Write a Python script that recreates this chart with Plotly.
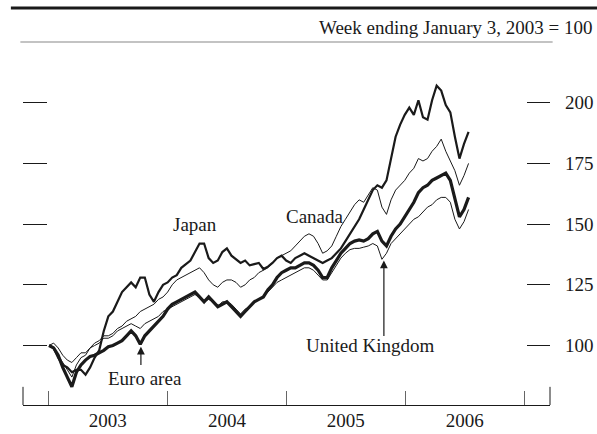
import pandas as pd
import plotly.graph_objects as go

# Weekly-ending dates sampled every two weeks, Jan 3 2003 through mid-July 2006
dates = pd.date_range("2003-01-03", periods=93, freq="14D")

# Equity indexes, week ending January 3, 2003 = 100
japan = [100, 99, 95, 92, 91, 89, 90, 90, 88, 91,
         95, 98, 106, 112, 114, 118, 122, 124, 126, 124,
         128, 128, 121, 118, 122, 125, 126, 128, 129, 132,
         133.5, 135, 138.5, 142, 142, 136, 134, 135, 138.5, 140,
         137, 135.5, 134, 135, 133, 133.5, 134, 131.5, 132.5, 134,
         136, 137, 135, 134, 136, 137, 138, 137, 136, 135,
         134, 135, 136, 138, 140, 143, 146, 149, 152, 156,
         160, 164, 166, 165, 168, 177, 186, 191, 195, 198,
         195, 201, 194, 193, 201, 207, 205, 199, 196, 186,
         177, 183, 188]
canada = [100, 101, 99, 96, 94, 93, 95, 97, 97, 99,
          101, 102, 104, 104, 105, 107, 108, 110, 111, 112,
          114, 115, 116, 117, 119, 120, 122, 125, 127, 128,
          129, 130, 131, 132, 130, 127, 125, 124, 126, 127,
          127, 126, 124, 125, 127, 128, 130, 131, 132, 134,
          136, 137, 138, 139, 141, 143, 145, 146, 145, 142,
          138, 139, 141, 145, 149, 152, 155, 158, 160, 159,
          162, 165, 164, 157, 154, 160, 164, 166, 168, 171,
          173, 177, 176, 177, 180, 182, 185, 180, 176, 172,
          166, 170, 175]
euro_area = [100, 99, 96, 91, 87, 83, 89, 92, 94, 95.5,
             96, 97, 98, 99.5, 100, 101, 102, 104, 106, 104,
             100.5, 104, 106, 108, 110, 112, 115, 117, 118, 119,
             120, 121, 122, 120, 118, 120, 118, 116, 117, 118,
             116, 114, 112, 114, 116, 118, 119, 120, 123, 125,
             128, 130, 131, 132, 132, 133, 134, 134, 133, 131,
             128, 128, 132, 135, 138, 140, 142, 143, 143.5, 143,
             144, 146, 147, 143, 141, 145, 148, 150, 153, 156,
             159, 163, 165, 166, 168, 169, 170, 171, 168, 160,
             153, 156, 161]
united_kingdom = [100, 99, 96, 93, 90, 87, 92, 95, 96, 99,
                  100, 101, 103, 103, 104, 106, 107, 108, 109, 108,
                  107, 109, 110, 111, 112, 114, 115, 116, 117, 118,
                  119, 120, 121, 120, 118, 119, 118, 116, 118, 118,
                  117, 115, 113, 115, 116, 118, 119, 120, 122, 124,
                  126, 127, 128, 129, 130, 131, 132, 132, 131, 129,
                  127, 127, 130, 133, 136, 138, 139.5, 140, 140, 140.5,
                  141, 142, 141, 135.5, 138, 142, 144, 146, 148, 150,
                  152, 153, 155, 157, 158, 160, 161, 161, 159, 152,
                  148, 151, 156]

y_ticks = [100, 125, 150, 175, 200]
year_bounds = ["2003-01-01", "2004-01-01", "2005-01-01", "2006-01-01", "2007-01-01"]
year_mids = ["2003-07-02", "2004-07-02", "2005-07-02", "2006-07-02"]
year_labels = ["2003", "2004", "2005", "2006"]

x_range = ["2002-10-15", "2007-03-21"]
y_range = [75.5, 225]

ink = "#1a1a1a"
serif = "Liberation Serif"

fig = go.Figure()
series = [
    (japan, 2.2),
    (canada, 1.0),
    (united_kingdom, 1.0),
    (euro_area, 3.2),
]
for values, width in series:
    fig.add_trace(go.Scatter(x=dates, y=values, mode="lines",
                             line=dict(color=ink, width=width),
                             showlegend=False, hoverinfo="skip"))

# Invisible anchor so the secondary axes (year labels, right-hand scale) render
fig.add_trace(go.Scatter(x=[dates[0]], y=[100], xaxis="x2", yaxis="y2", mode="markers",
                         marker=dict(opacity=0), showlegend=False, hoverinfo="skip"))

fig.update_layout(
    width=597, height=434,
    margin=dict(l=23, r=47, t=42, b=29, autoexpand=False),
    paper_bgcolor="white", plot_bgcolor="white",
    font=dict(family=serif, size=19, color=ink),
    xaxis=dict(type="date", range=x_range, showgrid=False, zeroline=False, automargin=False,
               showline=True, linecolor=ink, linewidth=1,
               tickmode="array", tickvals=year_bounds, ticks="inside", ticklen=14,
               tickcolor="#666666", tickwidth=1, showticklabels=False),
    xaxis2=dict(type="date", range=x_range, overlaying="x", side="bottom", automargin=False,
                showgrid=False, zeroline=False, showline=False,
                tickmode="array", tickvals=year_mids, ticktext=year_labels,
                ticks="", ticklabelstandoff=2,
                tickfont=dict(family=serif, size=19, color=ink)),
    yaxis=dict(range=y_range, showgrid=False, zeroline=False, showline=False, automargin=False,
               tickmode="array", tickvals=y_ticks, ticks="inside", ticklen=24,
               tickcolor=ink, tickwidth=1, showticklabels=False),
    yaxis2=dict(range=y_range, overlaying="y", side="right", showgrid=False, automargin=False,
                zeroline=False, showline=False,
                tickmode="array", tickvals=y_ticks, ticks="inside", ticklen=23,
                tickcolor=ink, tickwidth=1, ticklabelstandoff=14,
                tickfont=dict(family=serif, size=19, color=ink)),
)

# Header rules and end ticks on the date axis
fig.add_shape(type="line", xref="paper", yref="paper", x0=-0.023, x1=1.09, y0=1.094, y1=1.094,
              line=dict(color=ink, width=3))
fig.add_shape(type="line", xref="paper", yref="paper", x0=-0.005, x1=1.005, y0=1.0, y1=1.0,
              line=dict(color="#888888", width=1.2))
for xp in (0.0, 1.0):
    fig.add_shape(type="line", xref="paper", yref="paper", x0=xp, x1=xp, y0=0, y1=0.05,
                  line=dict(color=ink, width=1))

fig.add_annotation(text="Week ending January 3, 2003 = 100", xref="paper", yref="paper",
                   x=1.0854, y=1.0386, xanchor="right", yanchor="middle", showarrow=False,
                   font=dict(family=serif, size=19, color=ink))

# Series labels
labels = [
    ("Japan", "2004-03-25", 149.8),
    ("Canada", "2005-03-29", 153.1),
    ("United Kingdom", "2005-09-13", 100.0),
    ("Euro area", "2003-10-24", 86.4),
]
for text, xd, yv in labels:
    fig.add_annotation(text=text, x=xd, y=yv, xref="x", yref="y", showarrow=False,
                       xanchor="center", yanchor="middle",
                       font=dict(family=serif, size=19, color=ink))

# Pointer arrows
arrows = [
    ("2003-10-12", 99.5, 91.4),
    ("2005-10-27", 135.0, 103.3),
]
for xd, tip, tail in arrows:
    fig.add_annotation(text="", x=xd, y=tip, ax=xd, ay=tail, xref="x", yref="y",
                       axref="x", ayref="y", showarrow=True, arrowhead=2,
                       arrowsize=1.3, arrowwidth=1.2, arrowcolor=ink)

fig.write_html("out.html")
